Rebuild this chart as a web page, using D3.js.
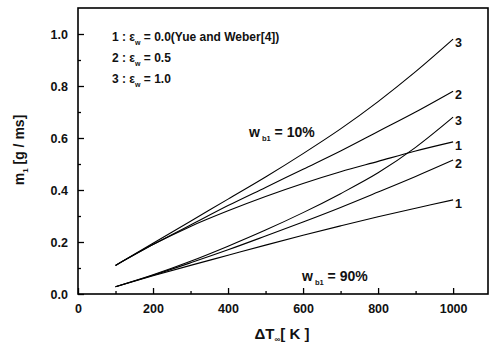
<!DOCTYPE html>
<html><head><meta charset="utf-8">
<script src="https://cdn.jsdelivr.net/npm/d3@7"></script>
<style>
body{margin:0;background:#fff;}
svg{display:block;}
text{font-family:"Liberation Sans",Arial,sans-serif;font-weight:bold;fill:#111;}
</style></head>
<body>
<svg id="c" width="491" height="343"></svg>
<script>
// ---- data ----
const xs = [100,200,300,400,500,600,700,800,900,1000];
const up1 = [0.11,0.19,0.26,0.32,0.375,0.425,0.47,0.51,0.55,0.585];
const up2 = [0.11,0.19,0.265,0.34,0.41,0.48,0.55,0.625,0.70,0.78];
const up3 = [0.11,0.195,0.28,0.365,0.45,0.54,0.635,0.74,0.855,0.98];
const lo1 = [0.028,0.07,0.11,0.149,0.188,0.226,0.262,0.297,0.33,0.362];
const lo2 = [0.028,0.072,0.12,0.17,0.223,0.277,0.333,0.392,0.452,0.515];
const lo3 = [0.028,0.074,0.126,0.184,0.246,0.313,0.386,0.466,0.564,0.68];
const seriesNames = ["3","2","1","3","2","1"];
const xTicks = [0,200,400,600,800,1000];
const yTicks = [0.0,0.2,0.4,0.6,0.8,1.0];
const legendLines = [["1 : ε","w"," = 0.0(Yue and Weber[4])"],["2 : ε","w"," = 0.5"],["3 : ε","w"," = 1.0"]];

const svg = d3.select("#c");
const L=78, R=488, T=8, B=294;
const x = d3.scaleLinear().domain([0,1093]).range([L,R]);
const y = d3.scaleLinear().domain([0,1.1]).range([B,T]);

const series = [up3,up2,up1,lo3,lo2,lo1];
const line = d3.line().x((d,i)=>x(xs[i])).y(d=>y(d)).curve(d3.curveCatmullRom.alpha(0.5));
series.forEach((s,k)=>{
  svg.append("path").attr("d",line(s)).attr("fill","none").attr("stroke","#000").attr("stroke-width",1.1);
  svg.append("text").attr("x",x(1000)+2).attr("y",y(s[s.length-1])+8)
    .attr("font-size",12.5).text(seriesNames[k]);
});

// axes
const g = svg.append("g");
const xAxis = d3.axisBottom(x).tickValues(xTicks).tickSize(-6).tickPadding(10).tickFormat(d3.format("d"));
const xMinor = d3.axisBottom(x).tickValues(d3.range(100,1100,200)).tickSize(-3).tickFormat("");
const yAxis = d3.axisLeft(y).tickValues(yTicks).tickSize(-6).tickPadding(10).tickFormat(d3.format(".1f"));
const yMinor = d3.axisLeft(y).tickValues([0.1,0.3,0.5,0.7,0.9]).tickSize(-3).tickFormat("");
[[xAxis,`translate(0,${B})`],[xMinor,`translate(0,${B})`],[yAxis,`translate(${L},0)`],[yMinor,`translate(${L},0)`]].forEach(([a,t])=>{
  const gg = g.append("g").attr("transform",t).call(a);
  gg.select(".domain").remove();
  gg.selectAll("line").attr("stroke","#000").attr("stroke-width",1.3);
  gg.selectAll("text").attr("font-size",12.5).attr("font-family","Liberation Sans, Arial, sans-serif").attr("font-weight","bold").attr("fill","#111");
});
svg.append("rect").attr("x",L).attr("y",T).attr("width",R-L).attr("height",B-T)
  .attr("fill","none").attr("stroke","#000").attr("stroke-width",1.6);

// legend
legendLines.forEach((p,i)=>{
  const t = svg.append("text").attr("x",112).attr("y",41+i*21).attr("font-size",12);
  t.append("tspan").text(p[0]);
  t.append("tspan").attr("dy",4).attr("font-size",7).text(p[1]);
  t.append("tspan").attr("dy",-4).text(p[2]);
});

// annotations
function wlabel(px,py,txt){
  const t = svg.append("text").attr("x",px).attr("y",py).attr("font-size",14);
  t.append("tspan").text("w");
  t.append("tspan").attr("dy",4).attr("font-size",7.5).text(" b1");
  t.append("tspan").attr("dy",-4).text(" = "+txt);
}
wlabel(249,137,"10%");
wlabel(302,281,"90%");

// axis titles
const yt = svg.append("text").attr("transform","translate(24,150) rotate(-90)").attr("text-anchor","middle").attr("font-size",14);
yt.append("tspan").text("m");
yt.append("tspan").attr("dy",4).attr("font-size",8).text("1");
yt.append("tspan").attr("dy",-4).text(" [g / ms]");
const xt = svg.append("text").attr("x",282).attr("y",339).attr("text-anchor","middle").attr("font-size",15);
xt.append("tspan").text("ΔT");
xt.append("tspan").attr("dy",3).attr("font-size",8).text("∞");
xt.append("tspan").attr("dy",-3).text("[ K ]");
</script>
</body></html>
